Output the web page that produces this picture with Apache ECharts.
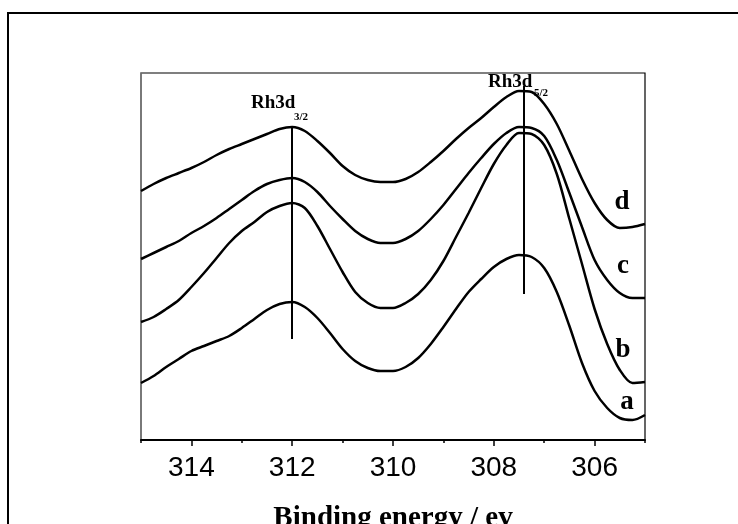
<!DOCTYPE html>
<html>
<head>
<meta charset="utf-8">
<script src="https://cdn.jsdelivr.net/npm/echarts@6/dist/echarts.min.js"></script>
<style>
html,body{margin:0;padding:0;background:#fff;}
#chart{width:738px;height:524px;}
</style>
</head>
<body>
<div id="chart"></div>
<script>
// Binding energy grid (eV), 0.25 eV steps
const energies = [315, 314.75, 314.5, 314.25, 314, 313.75, 313.5, 313.25, 313, 312.75, 312.5, 312.25, 312, 311.75, 311.5, 311.25, 311, 310.75, 310.5, 310.25, 310, 309.75, 309.5, 309.25, 309, 308.75, 308.5, 308.25, 308, 307.75, 307.5, 307.25, 307, 306.75, 306.5, 306.25, 306, 305.75, 305.5, 305.25, 305];
// Intensities (arbitrary units, with the vertical offsets as drawn)
const seriesA = [57, 64, 73, 81, 89, 94, 99, 104, 112, 121, 130, 136, 138, 133, 122, 107, 91, 79, 72, 69, 69, 73, 82, 96, 113, 131, 148, 161, 173, 181, 185, 183, 172, 148, 114, 77, 49, 32, 22, 20, 25];
const seriesB = [118, 123, 131, 140, 153, 167, 182, 197, 209, 218, 228, 234, 237, 232, 214, 191, 168, 148, 137, 132, 132, 137, 146, 160, 179, 203, 227, 252, 276, 295, 307, 306, 295, 266, 221, 176, 131, 96, 70, 57, 58];
const seriesC = [181, 187, 193, 199, 207, 214, 222, 231, 240, 249, 256, 260, 262, 258, 248, 234, 221, 209, 201, 197, 197, 201, 209, 221, 235, 251, 267, 282, 296, 307, 313, 312, 304, 280, 247, 213, 180, 160, 147, 142, 142];
const seriesD = [249, 256, 262, 267, 272, 278, 285, 291, 296, 301, 306, 311, 313, 309, 299, 287, 274, 265, 260, 258, 258, 261, 268, 278, 289, 301, 312, 322, 333, 343, 349, 348, 336, 316, 289, 261, 237, 220, 212, 213, 216];
const seriesNames = ['a', 'b', 'c', 'd'];
// Peak marker lines: [energy, from, to]
const peakLines = [[312.0, 101, 312], [307.4, 146, 354]];
const majorTicks = [306, 308, 310, 312, 314];

const chart = echarts.init(document.getElementById('chart'), null, {renderer: 'canvas'});
const toPairs = arr => energies.map((e, i) => [e, arr[i]]);
const lineStyle = {color: '#000', width: 2.5};
const allData = [seriesA, seriesB, seriesC, seriesD];

const series = allData.map((arr, i) => ({
  name: seriesNames[i],
  type: 'line',
  data: toPairs(arr),
  smooth: 0.3,
  showSymbol: false,
  symbol: 'none',
  lineStyle: lineStyle,
  z: 3
}));
series[0].markLine = {
  silent: true,
  symbol: 'none',
  animation: false,
  label: {show: false},
  lineStyle: {color: '#000', width: 2, type: 'solid'},
  data: peakLines.map(p => [{coord: [p[0], p[1]]}, {coord: [p[0], p[2]]}])
};

const serifBold = {fontFamily: 'Liberation Serif', fontWeight: 'bold', fill: '#000'};

chart.setOption({
  animation: false,
  backgroundColor: '#fff',
  grid: {left: 141, right: 93, top: 73, bottom: 84, show: true, borderColor: '#000', borderWidth: 1.2, backgroundColor: 'transparent', outerBoundsMode: 'none', containLabel: false},
  xAxis: [
    {
      type: 'value', min: 305, max: 315, interval: 1, inverse: true, position: 'bottom',
      axisLine: {show: true, lineStyle: {color: '#000', width: 2}},
      axisTick: {show: true, length: 3, lineStyle: {color: '#000', width: 1.5}},
      axisLabel: {show: true, customValues: majorTicks, fontSize: 28, fontFamily: 'Liberation Sans', color: '#000', margin: 14},
      splitLine: {show: false},
      name: 'Binding energy / ev', nameLocation: 'middle', nameGap: 64,
      nameTextStyle: {fontSize: 29, fontFamily: 'Liberation Serif', fontWeight: 'bold', color: '#000'}
    },
    {
      type: 'value', min: 305, max: 315, interval: 1, inverse: true, position: 'bottom',
      axisLine: {show: false},
      axisTick: {show: true, customValues: majorTicks, length: 6, lineStyle: {color: '#000', width: 1.5}},
      axisLabel: {show: false},
      splitLine: {show: false}
    }
  ],
  yAxis: {
    type: 'value', min: 0, max: 367,
    axisLine: {show: true, lineStyle: {color: '#808080', width: 1.5}},
    axisTick: {show: false}, axisLabel: {show: false}, splitLine: {show: false}
  },
  series: series,
  graphic: [
    {type: 'rect', shape: {x: 8, y: 13, width: 1200, height: 1200}, style: {fill: 'none', stroke: '#000', lineWidth: 2}, silent: true},
    {type: 'text', x: 251, y: 113, style: Object.assign({text: 'Rh3d', fontSize: 19, textVerticalAlign: 'bottom'}, serifBold)},
    {type: 'text', x: 294, y: 123, style: Object.assign({text: '3/2', fontSize: 11, textVerticalAlign: 'bottom'}, serifBold)},
    {type: 'text', x: 488, y: 92, style: Object.assign({text: 'Rh3d', fontSize: 19, textVerticalAlign: 'bottom'}, serifBold)},
    {type: 'text', x: 534, y: 99, style: Object.assign({text: '5/2', fontSize: 11, textVerticalAlign: 'bottom'}, serifBold)},
    {type: 'text', x: 622, y: 202, style: Object.assign({text: 'd', fontSize: 27, textAlign: 'center', textVerticalAlign: 'middle'}, serifBold)},
    {type: 'text', x: 623, y: 266, style: Object.assign({text: 'c', fontSize: 27, textAlign: 'center', textVerticalAlign: 'middle'}, serifBold)},
    {type: 'text', x: 623, y: 350, style: Object.assign({text: 'b', fontSize: 27, textAlign: 'center', textVerticalAlign: 'middle'}, serifBold)},
    {type: 'text', x: 627, y: 402, style: Object.assign({text: 'a', fontSize: 27, textAlign: 'center', textVerticalAlign: 'middle'}, serifBold)}
  ]
});
</script>
</body>
</html>
